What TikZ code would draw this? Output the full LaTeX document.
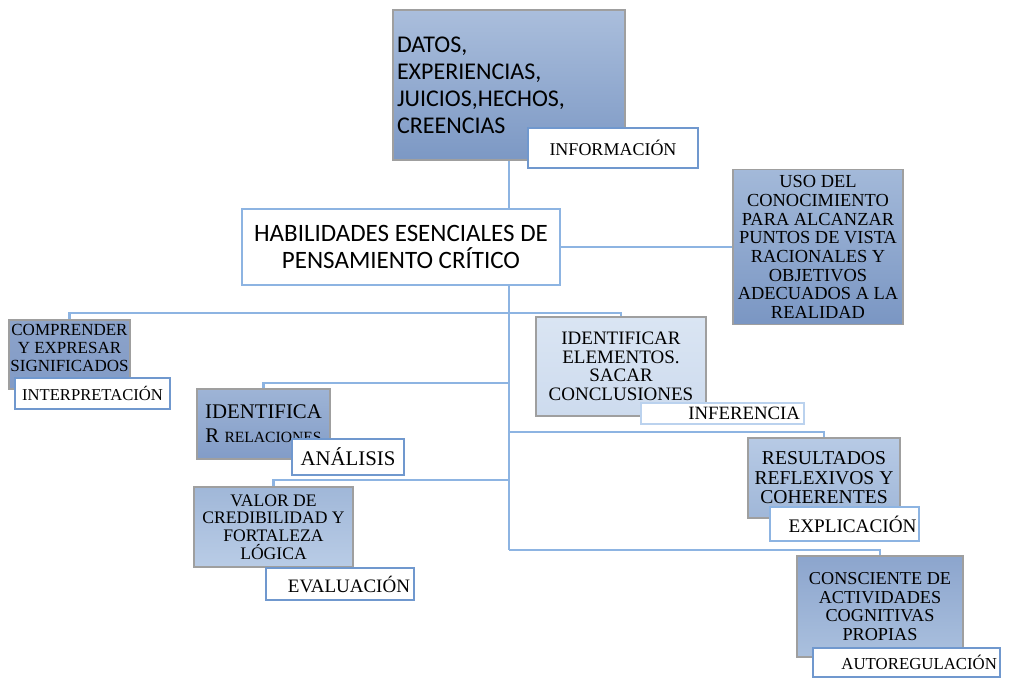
\documentclass[tikz,border=0pt]{standalone}
\usepackage{fontspec}
\setmainfont{Liberation Serif}
\newfontfamily\calib{Carlito}
\newcommand\fsz[2]{\fontsize{#1}{#2}\selectfont}

\definecolor{lnblue}{RGB}{141,180,226}
\definecolor{tagblue}{RGB}{112,152,206}
\definecolor{datostop}{RGB}{170,190,220}
\definecolor{datosbot}{RGB}{124,152,196}
\definecolor{usotop}{RGB}{163,185,217}
\definecolor{usobot}{RGB}{122,150,195}
\definecolor{comprtop}{RGB}{140,163,202}
\definecolor{comprbot}{RGB}{130,155,198}
\definecolor{relactop}{RGB}{158,180,214}
\definecolor{relacbot}{RGB}{130,156,199}
\definecolor{valortop}{RGB}{160,183,216}
\definecolor{valorbot}{RGB}{185,204,230}
\definecolor{infertop}{RGB}{218,229,243}
\definecolor{inferbot}{RGB}{205,219,238}
\definecolor{resulttop}{RGB}{183,202,229}
\definecolor{resultbot}{RGB}{160,183,216}
\definecolor{consctop}{RGB}{140,165,205}
\definecolor{conscbot}{RGB}{170,192,222}

\pgfdeclarelayer{bg}
\pgfsetlayers{bg,main}

\tikzset{
  blubox/.style 2 args={draw=gray!75, line width=0.6pt, top color=#1, bottom color=#2,
    align=center, inner sep=0.5pt},
  tag/.style={draw=tagblue, line width=0.9pt, fill=white, inner ysep=0pt, inner xsep=1pt},
  link/.style={draw=lnblue, line width=1.3pt},
}

\begin{document}
\begin{tikzpicture}[x=0.5pt,y=-0.5pt]
    \useasboundingbox (0,0) rectangle (1026,692);

    % top of the tree
    \node[blubox={datostop}{datosbot}, minimum width=116pt, minimum height=75pt,
          text width=112pt, align=left, font=\calib\fsz{12}{13.5}] (datos) at (509,85)
          {DATOS,\\EXPERIENCIAS,\\JUICIOS,HECHOS,\\CREENCIAS};
    \node[tag, minimum width=85pt, minimum height=20pt, font=\fsz{9}{9}] (infor) at (613,148) {INFORMACIÓN};

    \node[draw=lnblue, line width=1.2pt, fill=white, minimum width=159pt, minimum height=38pt,
          align=center, font=\calib\fsz{12.5}{13.5}] (habil) at (401,247)
          {HABILIDADES ESENCIALES DE\\PENSAMIENTO CRÍTICO};
    \node[blubox={usotop}{usobot}, minimum width=85pt, minimum height=77.5pt, font=\fsz{9.2}{9.35}] (uso) at (818,247)
          {USO DEL\\CONOCIMIENTO\\PARA ALCANZAR\\PUNTOS DE VISTA\\RACIONALES Y\\OBJETIVOS\\ADECUADOS A LA\\REALIDAD};

    % left branches
    \node[blubox={comprtop}{comprbot}, minimum width=60.5pt, minimum height=34.5pt, font=\fsz{8.5}{9}] (compr) at (69.5,354.5)
          {COMPRENDER\\Y EXPRESAR\\SIGNIFICADOS\rule[-7pt]{0pt}{0pt}};
    \node[tag, minimum width=77.5pt, minimum height=15.5pt, font=\fsz{8.3}{8.3}] (interp) at (92.5,393.5) {INTERPRETACIÓN};

    \node[blubox={relactop}{relacbot}, minimum width=66.5pt, minimum height=35pt, font=\fsz{10.4}{12}] (relac) at (263.5,424)
          {IDENTIFICA\\R {\fsz{7.8}{12}RELACIONES}};
    \node[tag, minimum width=56pt, minimum height=18pt, font=\fsz{10.4}{10.4}] (analis) at (348,457) {ANÁLISIS};

    \node[blubox={valortop}{valorbot}, minimum width=79.5pt, minimum height=40pt, font=\fsz{8.8}{8.8}] (valor) at (273.5,527)
          {VALOR DE\\CREDIBILIDAD Y\\FORTALEZA\\LÓGICA};
    \node[tag, minimum width=74pt, minimum height=16pt, text width=70pt, align=right, font=\fsz{9.5}{9.5}] (evalua) at (340,584) {EVALUACIÓN};

    % right branches
    \node[blubox={infertop}{inferbot}, minimum width=85pt, minimum height=49.5pt, font=\fsz{9.5}{9.25}] (infer) at (621,366.5)
          {IDENTIFICAR\\ELEMENTOS.\\SACAR\\CONCLUSIONES};
    \node[tag, draw=lnblue!60, minimum width=81.5pt, minimum height=10.5pt, text width=77.5pt, align=right, font=\fsz{9.4}{9.4}] (inferen) at (722.5,413.5) {INFERENCIA};

    \node[blubox={resulttop}{resultbot}, minimum width=76pt, minimum height=40pt, font=\fsz{9.8}{9.75}] (result) at (824,478)
          {RESULTADOS\\REFLEXIVOS Y\\COHERENTES};
    \node[tag, draw=lnblue, minimum width=74.5pt, minimum height=17pt, text width=72pt, align=right, font=\fsz{9.6}{9.6}] (explic) at (844.5,524) {EXPLICACIÓN};

    \node[blubox={consctop}{conscbot}, minimum width=83pt, minimum height=50.5pt, font=\fsz{9.1}{9.35}] (consc) at (880,606.5)
          {CONSCIENTE DE\\ACTIVIDADES\\COGNITIVAS\\PROPIAS};
    \node[tag, minimum width=93.5pt, minimum height=14.5pt, text width=90.5pt, align=right, font=\fsz{8.4}{8.4}] (autoreg) at (906.5,662.5) {AUTOREGULACIÓN};

    % spine and branches
    \coordinate (s1) at (509,313);
    \coordinate (s2) at (509,383);
    \coordinate (s3) at (509,432);
    \coordinate (s4) at (509,480);
    \coordinate (s5) at (509,550);
    \begin{pgfonlayer}{bg}
    \draw[link] (datos.south) -- (s5);
    \draw[link] (habil.east) -- (uso.west);
    \draw[link] (s1) -| (compr.north);
    \draw[link] (s1) -| (infer.north);
    \draw[link] (s2) -| (relac.north);
    \draw[link] (s3) -| (result.north);
    \draw[link] (s4) -| (valor.north);
    \draw[link] (s5) -| (consc.north);
    \end{pgfonlayer}
\end{tikzpicture}
\end{document}
